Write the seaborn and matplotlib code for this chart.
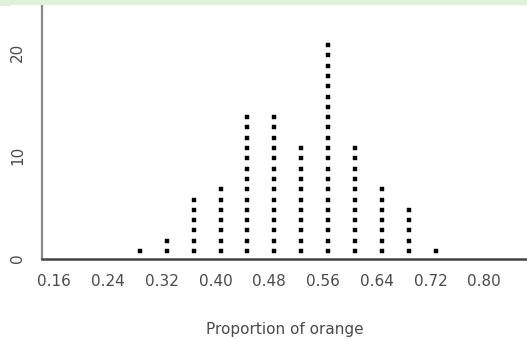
import numpy as np
import pandas as pd
import matplotlib
matplotlib.use("Agg")
import matplotlib.pyplot as plt
import matplotlib.transforms as mtransforms
import seaborn as sns
from matplotlib.patches import Rectangle

# proportions of orange and how many samples landed on each
proportions = [0.28, 0.32, 0.36, 0.40, 0.44, 0.48, 0.52, 0.56, 0.60, 0.64, 0.68, 0.72]
counts = [1, 2, 6, 7, 14, 14, 11, 21, 11, 7, 5, 1]
xticks = [0.16, 0.24, 0.32, 0.40, 0.48, 0.56, 0.64, 0.72, 0.80]
yticks = [0, 10, 20]

# stack one dot per sample
rows = []
for p, n in zip(proportions, counts):
    for k in range(n):
        rows.append({"proportion": p, "stack": k + 0.72})
df = pd.DataFrame(rows)

sns.set_style("white")
plt.rcParams["font.family"] = ["DejaVu Sans"]

fig = plt.figure(figsize=(5.27, 3.39), dpi=100)
ax = fig.add_axes([42 / 527, 80.5 / 339, 485 / 527, 253.5 / 339])

sns.scatterplot(data=df, x="proportion", y="stack", marker="s", s=11,
                color="black", edgecolor="black", linewidth=0.3, ax=ax, legend=False)

ax.set_xlim(0.1342, 0.856)
ax.set_ylim(0, 24.6)
ax.set_xticks(xticks)
ax.set_xticklabels([f"{t:.2f}" for t in xticks])
ax.set_yticks(yticks)
ax.set_yticklabels([str(t) for t in yticks], rotation=90, va="center")
ax.tick_params(axis="both", length=0, labelsize=11, colors="#4a4a4a")
ax.tick_params(axis="x", pad=11)
ax.tick_params(axis="y", pad=12)

# tick labels sit a few pixels left of the dot columns in the original
shift = mtransforms.ScaledTranslation(-5 / 100, 0, fig.dpi_scale_trans)
for lab in ax.get_xticklabels():
    lab.set_transform(lab.get_transform() + shift)

ax.set_xlabel("Proportion of orange", fontsize=11, color="#4a4a4a", labelpad=24)
ax.set_ylabel("")

for s in ["top", "right"]:
    ax.spines[s].set_visible(False)
ax.spines["left"].set_color("#8a8a8a")
ax.spines["left"].set_linewidth(1.6)
ax.spines["bottom"].set_color("#444444")
ax.spines["bottom"].set_linewidth(1.8)

# light green strip along the top edge
fig.patches.append(Rectangle((0, 334 / 339), 1, 5 / 339, transform=fig.transFigure,
                             facecolor="#e2efda", edgecolor="none", zorder=10))
fig.patches.append(Rectangle((0, 333 / 339), 10 / 527, 6 / 339, transform=fig.transFigure,
                             facecolor="#e2efda", edgecolor="none", zorder=10))

fig.savefig("out.png", dpi=100)
